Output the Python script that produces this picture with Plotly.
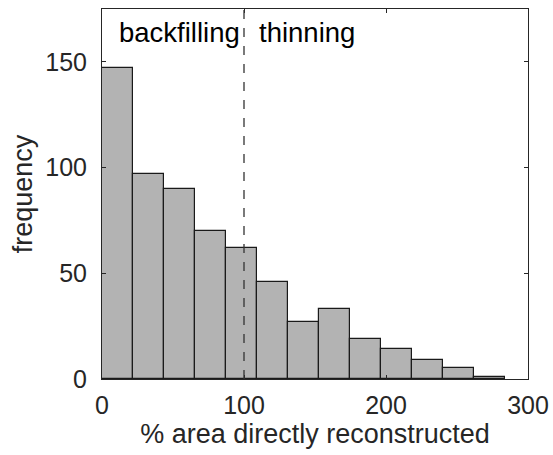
import plotly.graph_objects as go

# Histogram of % area directly reconstructed
bin_width = 21.85
counts = [147, 97, 90, 70, 62, 46, 27, 33, 19, 14, 9, 5, 1]
bin_starts = [i * bin_width for i in range(len(counts))]
threshold = 100
x_ticks = [0, 100, 200, 300]
y_ticks = [0, 50, 100, 150]
region_labels = ["backfilling", "thinning"]

font_family = "Liberation Sans, Arial, Helvetica, sans-serif"
ink = "#262626"

fig = go.Figure()
fig.add_trace(go.Bar(
    x=[s + bin_width / 2 for s in bin_starts],
    y=counts,
    width=bin_width,
    marker=dict(color="#b3b3b3", line=dict(color="#1a1a1a", width=1.2)),
    hoverinfo="x+y",
))

# Boundary between backfilling and thinning
fig.add_shape(type="line", xref="x", yref="paper",
              x0=threshold, x1=threshold, y0=0, y1=1,
              line=dict(color="#333333", width=1.3, dash="dash"))

fig.add_annotation(x=threshold, y=1, xref="x", yref="paper",
                   text=region_labels[0], showarrow=False,
                   xanchor="right", yanchor="top", xshift=-2, yshift=-6,
                   font=dict(size=27.5, color="#000000", family=font_family))
fig.add_annotation(x=threshold, y=1, xref="x", yref="paper",
                   text=region_labels[1], showarrow=False,
                   xanchor="left", yanchor="top", xshift=13, yshift=-6,
                   font=dict(size=27.5, color="#000000", family=font_family))

axis_common = dict(
    showgrid=False, zeroline=False, showline=True, linecolor=ink, linewidth=1,
    mirror="ticks", ticks="inside", ticklen=4, tickcolor=ink, tickwidth=1,
    automargin=False,
    tickfont=dict(size=25, color=ink, family=font_family),
)

fig.update_layout(
    width=553, height=455,
    margin=dict(l=102, r=25, t=9, b=76),
    paper_bgcolor="white", plot_bgcolor="white",
    showlegend=False, bargap=0,
    xaxis=dict(range=[0, 300], tickvals=x_ticks, ticklabelstandoff=4,
               title=dict(text="% area directly reconstructed",
                          font=dict(size=27, color=ink, family=font_family),
                          standoff=6),
               **axis_common),
    yaxis=dict(range=[0, 175], tickvals=y_ticks, ticklabelstandoff=9,
               title=dict(text="frequency",
                          font=dict(size=27, color=ink, family=font_family),
                          standoff=4),
               **axis_common),
)

fig.write_html("out.html")
